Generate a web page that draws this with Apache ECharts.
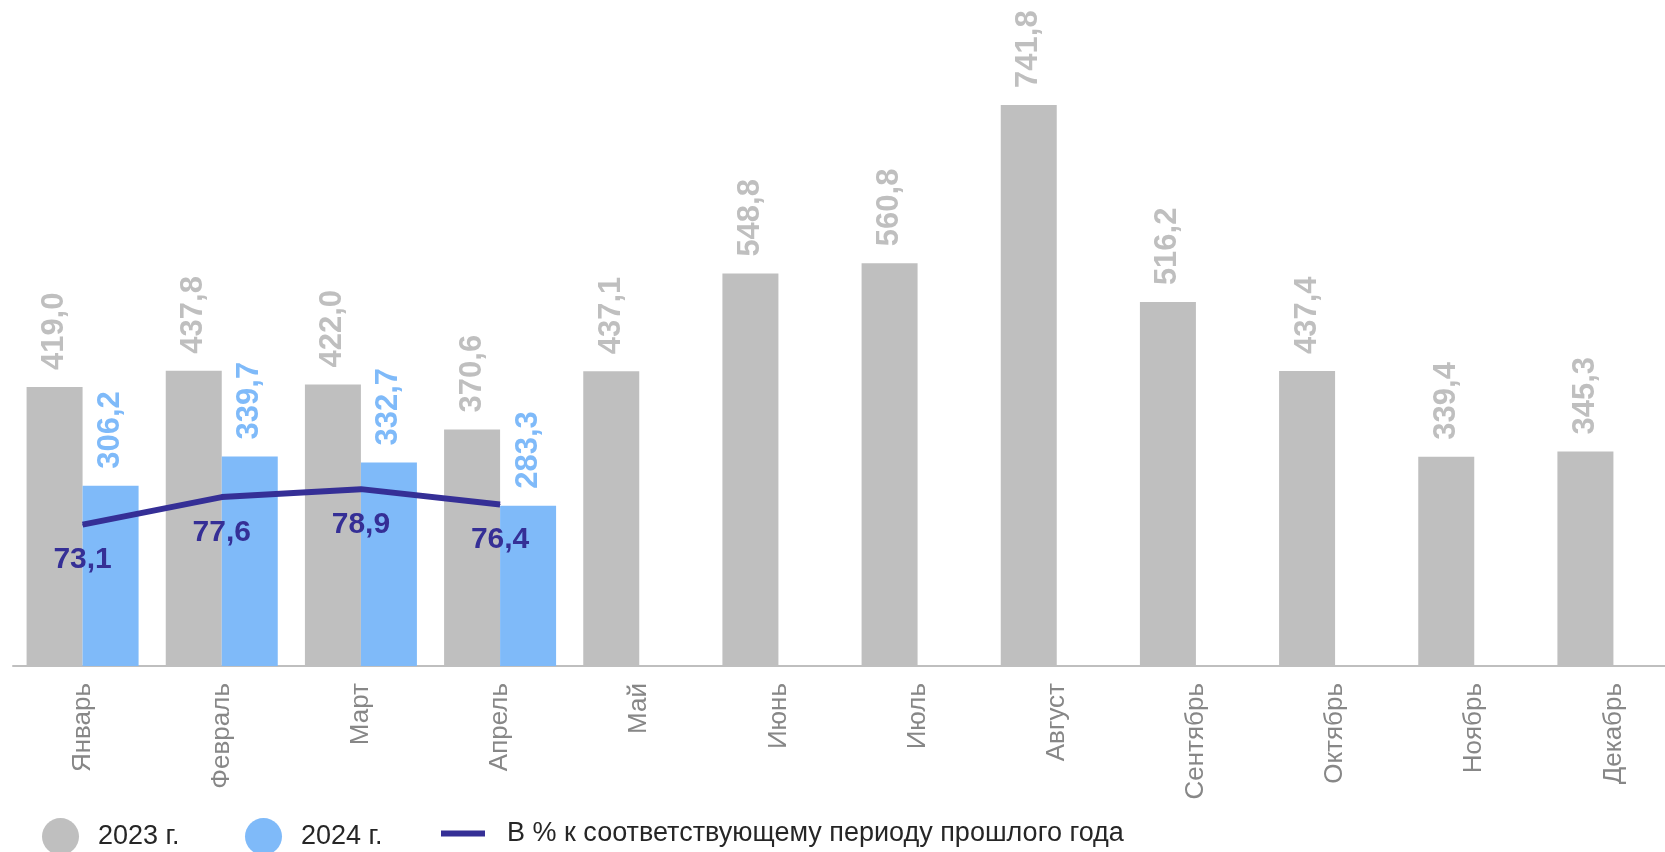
<!DOCTYPE html>
<html>
<head>
<meta charset="utf-8">
<script src="https://cdn.jsdelivr.net/npm/echarts@6/dist/echarts.min.js"></script>
<style>
html,body{margin:0;padding:0;background:#fff;}
#chart{width:1665px;height:852px;}
</style>
</head>
<body>
<div id="chart"></div>
<script>
var categories = ['Январь','Февраль','Март','Апрель','Май','Июнь','Июль','Август','Сентябрь','Октябрь','Ноябрь','Декабрь'];
var values2023 = [419.0, 437.8, 422.0, 370.6, 437.1, 548.8, 560.8, 741.8, 516.2, 437.4, 339.4, 345.3];
var values2024 = [306.2, 339.7, 332.7, 283.3, null, null, null, null, null, null, null, null];
var percentPrevYear = [73.1, 77.6, 78.9, 76.4, null, null, null, null, null, null, null, null];
var seriesNames = ['2023 г.', '2024 г.', 'В % к соответствующему периоду прошлого года'];

var FONT = '"Liberation Sans", Arial, sans-serif';
var GRAY = '#bfbfbf', BLUE = '#7fbaf9', NAVY = '#352f96';
function fmt(p){ return p.value == null ? '' : Number(p.value).toFixed(1).replace('.', ','); }

var chart = echarts.init(document.getElementById('chart'));
var legendText = { fontSize: 27, color: '#262626', fontFamily: FONT, padding: [0, 0, 0, 14] };
chart.setOption({
  animation: false,
  backgroundColor: '#fff',
  grid: { left: 13, top: 54, width: 1670, bottom: 186, containLabel: false, outerBoundsMode: 'none' },
  legend: [
    { data: [seriesNames[0]], left: 42, top: 818, padding: 0, icon: 'circle', itemWidth: 37, itemHeight: 37, textStyle: legendText },
    { data: [seriesNames[1]], left: 245, top: 818, padding: 0, icon: 'circle', itemWidth: 37, itemHeight: 37, textStyle: legendText },
    { data: [seriesNames[2]], left: 441, top: 820, padding: 0, icon: 'rect', itemWidth: 44, itemHeight: 6, textStyle: { fontSize: 27, color: '#262626', fontFamily: FONT, padding: [0, 0, 0, 17] } }
  ],
  xAxis: {
    type: 'category',
    data: categories,
    axisLine: { show: true, lineStyle: { color: '#bfbfbf', width: 2 } },
    axisTick: { show: false },
    axisLabel: { rotate: 90, interval: 0, margin: 17, fontSize: 26, color: '#878787', fontFamily: FONT }
  },
  yAxis: [
    { type: 'value', min: 100, max: 800, show: false, splitLine: { show: false } },
    { type: 'value', min: 50, max: 150, show: false, splitLine: { show: false } }
  ],
  series: [
    {
      name: seriesNames[0], type: 'bar', data: values2023, barWidth: 56, barGap: '0%',
      itemStyle: { color: GRAY },
      label: { show: true, position: 'top', rotate: 90, align: 'left', verticalAlign: 'middle', distance: 17,
               fontSize: 31, fontWeight: 'bold', color: GRAY, fontFamily: FONT, formatter: fmt }
    },
    {
      name: seriesNames[1], type: 'bar', data: values2024, barWidth: 56, barGap: '0%',
      itemStyle: { color: BLUE },
      label: { show: true, position: 'top', rotate: 90, align: 'left', verticalAlign: 'middle', distance: 17,
               fontSize: 31, fontWeight: 'bold', color: BLUE, fontFamily: FONT, formatter: fmt }
    },
    {
      name: seriesNames[2], type: 'line', yAxisIndex: 1, data: percentPrevYear,
      symbol: 'circle', symbolSize: 1, showSymbol: true,
      lineStyle: { color: NAVY, width: 6 },
      itemStyle: { color: NAVY },
      label: { show: true, position: 'bottom', distance: 20, fontSize: 30, fontWeight: 'bold', color: NAVY, fontFamily: FONT, formatter: fmt },
      z: 5
    }
  ]
});
</script>
</body>
</html>
